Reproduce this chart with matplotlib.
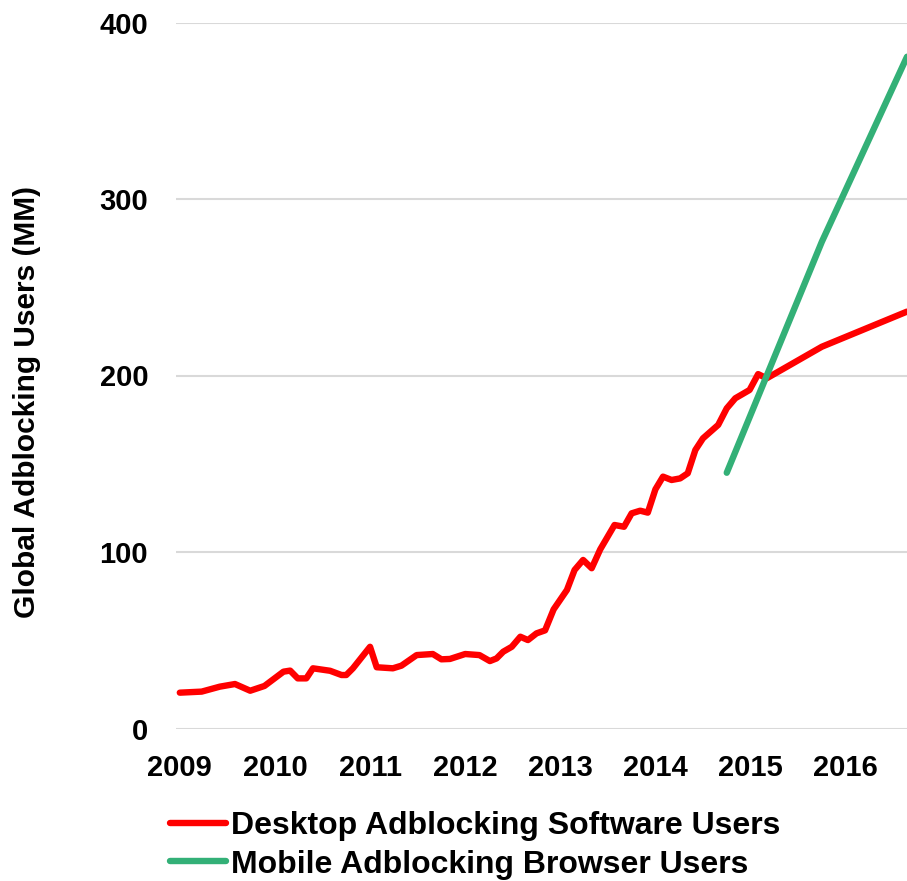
#Load libraries ---------------------------------------------------------------
import matplotlib
matplotlib.use("Agg")
import matplotlib.pyplot as plt

plt.rcParams['font.family'] = ['Liberation Sans', 'DejaVu Sans']
plt.rcParams['font.weight'] = 'bold'

#Data (fractional year, millions of users) ------------------------------------
desktop_year = [2009.00, 2009.23, 2009.42, 2009.58, 2009.74, 2009.89, 2010.09,
                2010.16, 2010.24, 2010.33, 2010.40, 2010.58, 2010.70, 2010.75,
                2010.82, 2011.00, 2011.07, 2011.24, 2011.33, 2011.49, 2011.66,
                2011.75, 2011.84, 2012.00, 2012.15, 2012.26, 2012.33, 2012.40,
                2012.49, 2012.58, 2012.66, 2012.75, 2012.84, 2012.93, 2013.07,
                2013.15, 2013.24, 2013.33, 2013.42, 2013.57, 2013.67, 2013.75,
                2013.84, 2013.92, 2014.00, 2014.08, 2014.17, 2014.26, 2014.34,
                2014.42, 2014.50, 2014.66, 2014.75, 2014.84, 2014.99, 2015.08,
                2015.17, 2015.75, 2016.645]
desktop_users = [20.3, 20.9, 23.7, 25.2, 21.4, 24.1, 32.2,
                 32.8, 28.4, 28.4, 34.1, 32.7, 30.3, 30.3,
                 34.1, 46.3, 34.7, 34.1, 35.6, 41.6, 42.2,
                 39.2, 39.4, 42.2, 41.6, 38.2, 39.7, 43.5,
                 46.3, 52.0, 50.1, 53.9, 55.6, 67.5, 78.5,
                 89.8, 95.5, 90.8, 101.5, 115.3, 114.3, 121.9,
                 123.4, 122.3, 135.5, 142.7, 140.8, 141.7, 144.6,
                 157.8, 164.4, 172.0, 181.4, 187.1, 191.8, 200.8,
                 198.4, 216.3, 236.2]

mobile_year = [2014.75, 2015.75, 2016.645]
mobile_users = [144.9, 275.8, 380.6]

year_ticks = [2009, 2010, 2011, 2012, 2013, 2014, 2015, 2016]
user_ticks = [0, 100, 200, 300, 400]

#Plot -------------------------------------------------------------------------
fig = plt.figure(figsize=(9.07, 8.81), dpi=100)
ax = fig.add_axes([176/907, (881-728.5)/881, 1 - 176/907, (728.5-22.5)/881])

ax.plot(desktop_year, desktop_users, color='#ff0000', lw=4.6,
        solid_capstyle='round', solid_joinstyle='round',
        label='Desktop Adblocking Software Users', clip_on=False, zorder=3)
ax.plot(mobile_year, mobile_users, color='#33b077', lw=4.6,
        solid_capstyle='round', solid_joinstyle='round',
        label='Mobile Adblocking Browser Users', clip_on=False, zorder=4)

ax.set_xlim(2008.96, 2016.645)
ax.set_ylim(0, 400)
ax.set_xticks(year_ticks)
ax.set_yticks(user_ticks)
ax.tick_params(length=0, labelsize=21)
ax.tick_params(axis='x', pad=18)
ax.tick_params(axis='y', pad=20)
ax.grid(axis='y', color='#d9d9d9', lw=1.5)
ax.set_axisbelow(True)
for s in ax.spines.values():
    s.set_visible(False)

fig.text(27/907, (881-402)/881, 'Global Adblocking Users (MM)', rotation=90,
         ha='center', va='center', fontsize=21.5, fontweight='bold')

fig.legend(loc='upper left', bbox_to_anchor=(170/907, (881-811)/881),
           frameon=False, fontsize=23, handlelength=1.75, handletextpad=0.16,
           labelspacing=0.27, borderpad=0, borderaxespad=0)

plt.savefig('out.png', dpi=100)
